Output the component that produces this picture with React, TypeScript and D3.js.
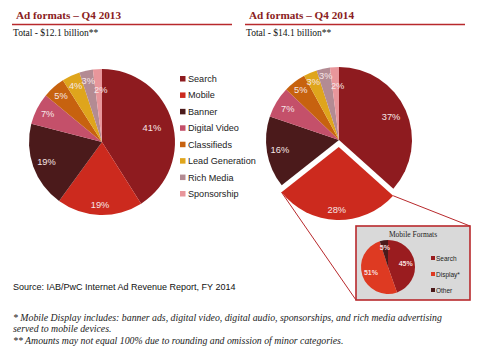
import React from "react";
import * as d3 from "d3";

// Ad format shares (percent of total revenue)
const formats = [
  "Search",
  "Mobile",
  "Banner",
  "Digital Video",
  "Classifieds",
  "Lead Generation",
  "Rich Media",
  "Sponsorship",
];
const share2013 = [41, 19, 19, 7, 5, 4, 3, 2];
const share2014 = [37, 28, 16, 7, 5, 3, 3, 2];
const formatColors = [
  "#8e1b1f",
  "#cc2a1e",
  "#4b1a1b",
  "#c4506a",
  "#c7620f",
  "#dfa51c",
  "#b38b93",
  "#e8969b",
];

// Mobile breakdown for Q4 2014
const mobileFormats = ["Search", "Display*", "Other"];
const mobileShare = [45, 51, 5];
const mobileColors = ["#9a1c1f", "#de3a22", "#4b1a1b"];

const titles = ["Ad formats – Q4 2013", "Ad formats – Q4 2014"];
const totals = ["Total - $12.1 billion**", "Total - $14.1 billion**"];

const sourceNote = "Source: IAB/PwC Internet Ad Revenue Report, FY 2014";
const footnotes = [
  "* Mobile Display includes: banner ads, digital video, digital audio, sponsorships, and rich media advertising",
  "served to mobile devices.",
  "** Amounts may not equal 100% due to rounding and omission of minor categories.",
];

const W = 490;
const H = 361;
const SERIF = "Georgia, 'Liberation Serif', 'DejaVu Serif', serif";
const SANS = "'Liberation Sans', Arial, Helvetica, sans-serif";
const RED = "#b8292c";

// label distance from pie centre and sideways nudge, per slice (keeps the thin slices apart)
const labelR2013 = [52, 63, 59, 61, 62, 62, 63, 52];
const labelDx2013 = [0, 0, 0, 0, 0, 0, 0, 2];
const labelR2014 = [57, 63, 60, 60, 63, 63, 66, 54];
const labelDx2014 = [0, 0, 0, 0, 0, -1, 1, 2];

const pieGen = d3
  .pie<number>()
  .sort(null)
  .value((d) => d);

function polar(cx: number, cy: number, r: number, a: number): [number, number] {
  return [cx + r * Math.sin(a), cy - r * Math.cos(a)];
}

export default function App() {
  const R = 73;
  const arc = d3.arc<d3.PieArcDatum<number>>().innerRadius(0).outerRadius(R);

  const left = { cx: 102, cy: 142 };
  const right = { cx: 339, cy: 140 };
  const explode = 7;

  const arcs2013 = pieGen(share2013);
  const arcs2014 = pieGen(share2014);

  // exploded mobile slice
  const mob = arcs2014[1];
  const mobMid = (mob.startAngle + mob.endAngle) / 2;
  const [ox, oy] = polar(0, 0, explode, mobMid);
  const [rx1, ry1] = polar(right.cx + ox, right.cy + oy, R, mob.startAngle);
  const [rx2, ry2] = polar(right.cx + ox, right.cy + oy, R, mob.endAngle);

  // inset box
  const box = { x: 356, y: 226, w: 114, h: 74 };
  const inset = { cx: 388, cy: 267, r: 27 };
  const insetArc = d3.arc<d3.PieArcDatum<number>>().innerRadius(0).outerRadius(inset.r);
  const insetArcs = pieGen(mobileShare);

  const legendY = d3
    .scalePoint<string>()
    .domain(formats)
    .range([79, 194]);

  const insetLegendY = d3
    .scalePoint<string>()
    .domain(mobileFormats)
    .range([258, 290]);

  return (
    <div style={{ position: "absolute", left: 0, top: 0 }}>
      <svg width={W} height={H} style={{ display: "block", background: "#fff" }}>
        {/* headers */}
        {[0, 1].map((i) => {
          const x0 = i === 0 ? 12 : 245;
          return (
            <g key={i}>
              <text
                x={x0 + 4}
                y={19}
                fontFamily={SERIF}
                fontWeight="bold"
                fontSize={11.2}
                fill="#8a1c22"
              >
                {titles[i]}
              </text>
              <line x1={x0} x2={x0 + 220} y1={24.5} y2={24.5} stroke={RED} strokeWidth={1.3} />
              <text x={x0 + 1} y={36} fontFamily={SERIF} fontSize={9.5} fill="#111">
                {totals[i]}
              </text>
            </g>
          );
        })}

        {/* 2013 pie */}
        <g transform={`translate(${left.cx},${left.cy})`}>
          {arcs2013.map((a, i) => (
            <path key={i} d={arc(a) || ""} fill={formatColors[i]} />
          ))}
          {arcs2013.map((a, i) => {
            const mid = (a.startAngle + a.endAngle) / 2;
            const [lx, ly] = polar(0, 0, labelR2013[i], mid);
            return (
              <text
                key={i}
                x={lx + labelDx2013[i]}
                y={ly}
                textAnchor="middle"
                dominantBaseline="central"
                fontFamily={SANS}
                fontSize={9.3}
                fill="#f6e6e6"
              >
                {a.data}%
              </text>
            );
          })}
        </g>

        {/* legend */}
        {formats.map((f, i) => {
          const y = legendY(f) as number;
          return (
            <g key={f}>
              <rect x={180} y={y - 3} width={5.5} height={5.5} fill={formatColors[i]} />
              <text
                x={188}
                y={y}
                dominantBaseline="central"
                fontFamily={SANS}
                fontSize={9.1}
                fill="#222"
              >
                {f}
              </text>
            </g>
          );
        })}

        {/* connector lines to inset */}
        <line x1={rx1} y1={ry1} x2={box.x + box.w} y2={box.y} stroke={RED} strokeWidth={1} />
        <line x1={rx2} y1={ry2} x2={box.x} y2={box.y + box.h} stroke={RED} strokeWidth={1} />

        {/* 2014 pie */}
        <g transform={`translate(${right.cx},${right.cy})`}>
          {arcs2014.map((a, i) => {
            const mid = (a.startAngle + a.endAngle) / 2;
            const [dx, dy] = i === 1 ? polar(0, 0, explode, mid) : [0, 0];
            return (
              <path
                key={i}
                d={arc(a) || ""}
                transform={`translate(${dx},${dy})`}
                fill={formatColors[i]}
              />
            );
          })}
          {arcs2014.map((a, i) => {
            const mid = (a.startAngle + a.endAngle) / 2;
            const r = labelR2014[i];
            const [lx, ly] = polar(0, 0, i === 1 ? r + explode : r, mid);
            return (
              <text
                key={i}
                x={lx + labelDx2014[i]}
                y={ly}
                textAnchor="middle"
                dominantBaseline="central"
                fontFamily={SANS}
                fontSize={9.3}
                fill="#f6e6e6"
              >
                {a.data}%
              </text>
            );
          })}
        </g>

        {/* mobile inset */}
        <rect
          x={box.x}
          y={box.y}
          width={box.w}
          height={box.h}
          fill="#d9d9d9"
          stroke={RED}
          strokeWidth={1.6}
        />
        <text
          x={box.x + box.w / 2}
          y={box.y + 11}
          textAnchor="middle"
          fontFamily={SERIF}
          fontSize={7.5}
          fill="#222"
        >
          Mobile Formats
        </text>
        <g transform={`translate(${inset.cx},${inset.cy})`}>
          {insetArcs.map((a, i) => (
            <path key={i} d={insetArc(a) || ""} fill={mobileColors[i]} />
          ))}
          {insetArcs.map((a, i) => {
            const mid = (a.startAngle + a.endAngle) / 2;
            const [lx, ly] = polar(0, 0, i === 2 ? 20 : 18, mid);
            return (
              <text
                key={i}
                x={lx}
                y={ly}
                textAnchor="middle"
                dominantBaseline="central"
                fontFamily={SANS}
                fontWeight="bold"
                fontSize={7}
                fill="#f6dede"
              >
                {a.data}%
              </text>
            );
          })}
        </g>
        {mobileFormats.map((f, i) => {
          const y = insetLegendY(f) as number;
          return (
            <g key={f}>
              <rect x={431} y={y - 2} width={4} height={4} fill={mobileColors[i]} />
              <text
                x={436}
                y={y}
                dominantBaseline="central"
                fontFamily={SANS}
                fontSize={6.5}
                fill="#222"
              >
                {f}
              </text>
            </g>
          );
        })}

        {/* source and notes */}
        <text x={13} y={290} fontFamily={SANS} fontSize={9} fill="#111">
          {sourceNote}
        </text>
        {footnotes.map((t, i) => (
          <text
            key={i}
            x={13}
            y={321 + i * 11.3}
            fontFamily={SERIF}
            fontStyle="italic"
            fontSize={9.8}
            fill="#222"
          >
            {t}
          </text>
        ))}
      </svg>
    </div>
  );
}
